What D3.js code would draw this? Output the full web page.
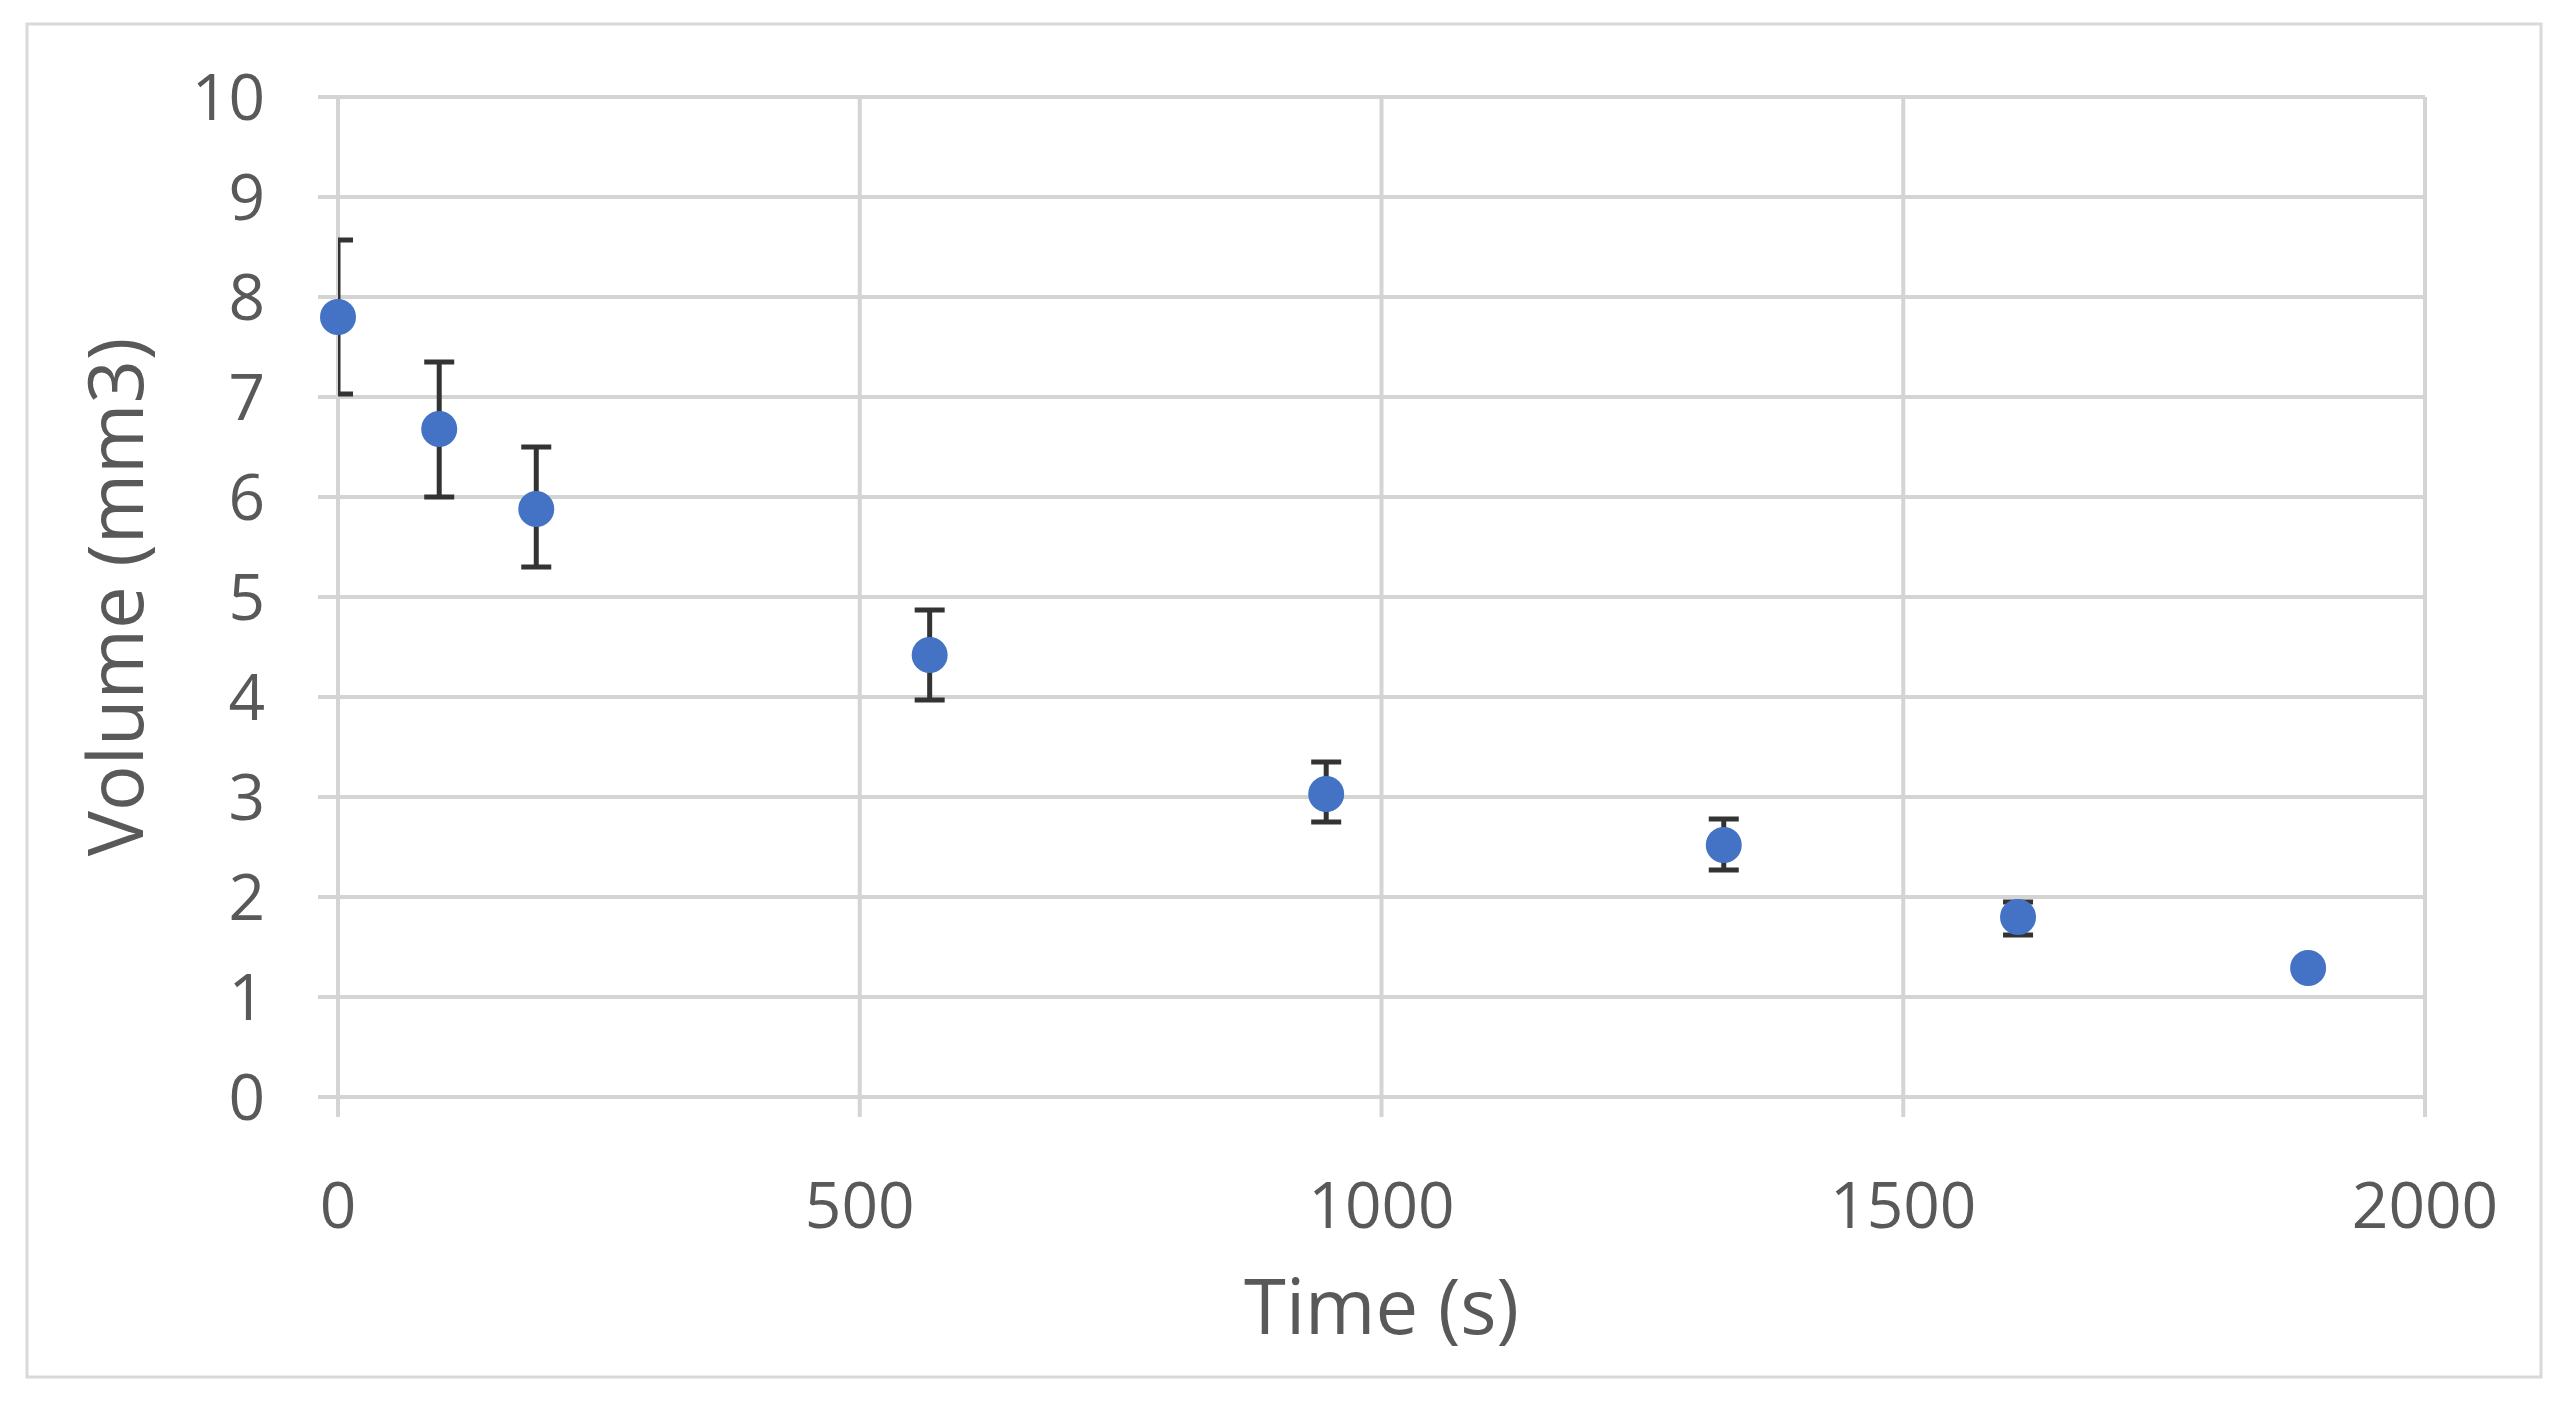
<!DOCTYPE html>
<html><head><meta charset="utf-8">
<script src="https://cdn.jsdelivr.net/npm/d3@7"></script>
<style>body{margin:0;background:#fff}</style></head>
<body><svg id="c" width="2566" height="1423"></svg>
<script>
const times=[0,97,190,567,947,1328,1610,1888];
const volumes=[7.8,6.68,5.88,4.42,3.03,2.52,1.8,1.29];
const upper=[8.57,7.35,6.5,4.87,3.35,2.78,1.95,1.35];
const lower=[7.03,6.0,5.3,3.97,2.75,2.27,1.62,1.23];
const xTicks=[0,500,1000,1500,2000];
const yTicks=[0,1,2,3,4,5,6,7,8,9,10];
const svg=d3.select("#c");
svg.append("rect").attr("x",27).attr("y",24).attr("width",2514).attr("height",1353).attr("fill","#fff").attr("stroke","#d9d9d9").attr("stroke-width",3);
const x=d3.scaleLinear().domain([0,2000]).range([338,2425]);
const y=d3.scaleLinear().domain([0,10]).range([1097,97]);
const font="'Open Sans', 'Liberation Sans', sans-serif", tc="#595959";
svg.append("g").selectAll("line").data(yTicks).join("line")
 .attr("x1",x(0)-20).attr("x2",x(2000)).attr("y1",d=>y(d)).attr("y2",d=>y(d)).attr("stroke","#d4d4d4").attr("stroke-width",4);
svg.append("g").selectAll("line").data(xTicks).join("line")
 .attr("x1",d=>x(d)).attr("x2",d=>x(d)).attr("y1",y(10)).attr("y2",y(0)+20).attr("stroke","#d4d4d4").attr("stroke-width",4);
svg.append("g").selectAll("text").data(yTicks).join("text")
 .attr("x",265).attr("y",d=>y(d)+23).attr("text-anchor","end").attr("font-family",font).attr("font-size",64).attr("fill",tc).text(d=>d);
svg.append("g").selectAll("text").data(xTicks).join("text")
 .attr("x",d=>x(d)).attr("y",1228).attr("text-anchor","middle").attr("font-family",font).attr("font-size",64).attr("fill",tc).text(d=>d);
svg.append("text").attr("x",x(1000)).attr("y",1334).attr("text-anchor","middle").attr("font-family",font).attr("font-size",76).attr("fill",tc).text("Time (s)");
svg.append("text").attr("transform",`translate(143,${y(5)}) rotate(-90)`).attr("text-anchor","middle").attr("font-family",font).attr("font-size",76).attr("fill",tc).text("Volume (mm3)");
svg.append("clipPath").attr("id","pa").append("rect").attr("x",x(0)).attr("y",0).attr("width",x(2000)-x(0)+20).attr("height",1423);
const eb=svg.append("g").attr("clip-path","url(#pa)").attr("stroke","#333").attr("stroke-width",5);
times.forEach((t,i)=>{
 eb.append("line").attr("x1",x(t)).attr("x2",x(t)).attr("y1",y(upper[i])).attr("y2",y(lower[i]));
 [upper[i],lower[i]].forEach(v=>eb.append("line").attr("x1",x(t)-15).attr("x2",x(t)+15).attr("y1",y(v)).attr("y2",y(v)));
});
svg.append("g").selectAll("circle").data(times).join("circle")
 .attr("cx",d=>x(d)).attr("cy",(d,i)=>y(volumes[i])).attr("r",18).attr("fill","#4472c4");
</script></body></html>
